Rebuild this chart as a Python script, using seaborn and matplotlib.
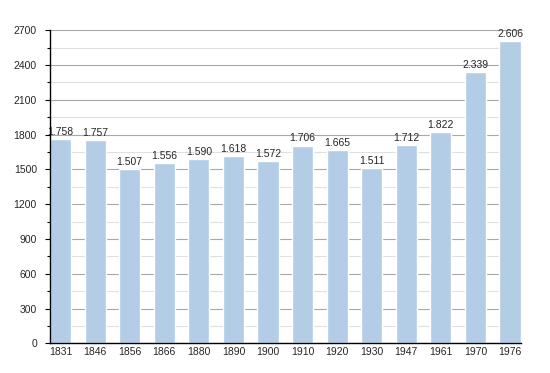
import matplotlib
matplotlib.use("Agg")
import matplotlib.pyplot as plt
import seaborn as sns
import pandas as pd
from matplotlib.ticker import MultipleLocator

years = ["1831", "1846", "1856", "1866", "1880", "1890", "1900", "1910",
         "1920", "1930", "1947", "1961", "1970", "1976"]
population = [1758, 1757, 1507, 1556, 1590, 1618, 1572, 1706,
              1665, 1511, 1712, 1822, 2339, 2606]

df = pd.DataFrame({"year": years, "pop": population})

sns.set_theme(style="white")
plt.rcParams["font.family"] = ["Liberation Sans", "DejaVu Sans"]

fig = plt.figure(figsize=(5.5, 3.73), dpi=100)
ax = fig.add_axes([0.0909, 0.0796, 0.8555, 0.8392])

sns.barplot(data=df, x="year", y="pop", color="#b3cde6", saturation=1,
            width=0.61, ax=ax)
for p in ax.patches:
    p.set_zorder(3)

ax.set_xlim(-0.305, len(years) - 1 + 0.305)
ax.set_ylim(0, 2700)
ax.yaxis.set_major_locator(MultipleLocator(300))
ax.yaxis.set_minor_locator(MultipleLocator(150))
ax.grid(axis="y", which="major", color="#a8a8a8", linewidth=0.8, zorder=0)
ax.grid(axis="y", which="minor", color="#e0e0e0", linewidth=0.8, zorder=0)
ax.set_axisbelow(True)

for s in ["top", "right"]:
    ax.spines[s].set_visible(False)
for s in ["left", "bottom"]:
    ax.spines[s].set_color("black")
    ax.spines[s].set_linewidth(1.0)
    ax.spines[s].set_zorder(4)

ax.tick_params(axis="y", which="major", length=3.6, width=0.8, color="black",
               labelsize=7.5, left=True, pad=5.8)
ax.tick_params(axis="y", which="minor", length=2.2, width=0.8, color="black", left=True)
ax.tick_params(axis="x", length=0, labelsize=7.5, pad=3)
ax.set_xlabel("")
ax.set_ylabel("")

labels = [f"{v:,}".replace(",", ".") for v in population]
ax.bar_label(ax.containers[0], labels=labels, padding=1.5, fontsize=7.5)

fig.savefig("out.png", dpi=100)
